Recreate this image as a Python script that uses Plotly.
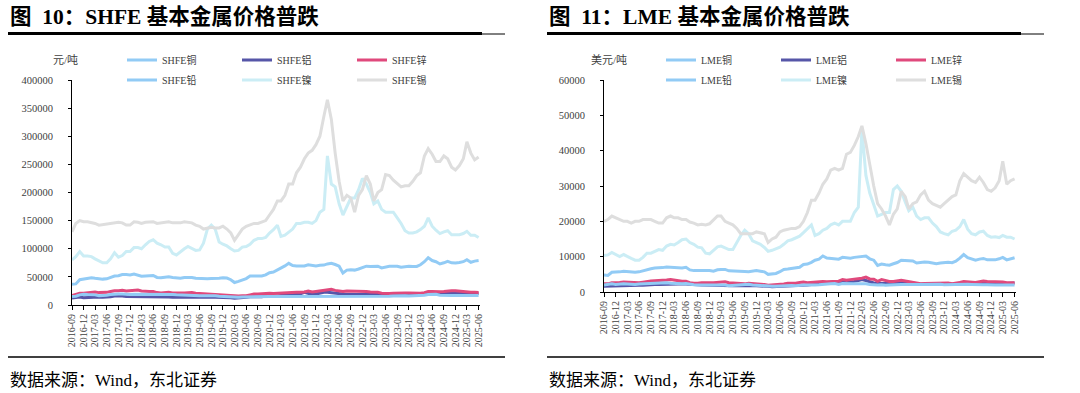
import pandas as pd
import plotly.graph_objects as go

# ---------------- data (monthly readings, 2016-09 .. 2025-06) ----------------
months = pd.date_range("2016-09-01", "2025-06-01", freq="MS")

shfe_names = ["SHFE铜", "SHFE铝", "SHFE锌", "SHFE铅", "SHFE镍", "SHFE锡"]
lme_names = ["LME铜", "LME铝", "LME锌", "LME铅", "LME镍", "LME锡"]

shfe_cu = [37000, 37500, 45000, 46000,
           47000, 48500, 47500, 46500, 46000, 46500, 49000, 51500, 52000, 54000, 54000, 53500,
           55000, 53000, 51000, 51500, 51500, 52500, 49000, 48500, 49500, 50000, 49000, 48500,
           47500, 49000, 49500, 49000, 47500, 46800, 47000, 46500, 47000, 47000, 47500, 48500,
           48000, 45000, 40000, 42000, 44000, 47000, 51500, 51500, 51500, 51500, 53500, 57500,
           58500, 62000, 66000, 69500, 74000, 70000, 69500, 70000, 69500, 71500, 71000, 69500,
           70500, 71000, 73000, 74000, 72000, 69000, 57000, 62000, 62500, 62000, 64000, 66000,
           69000, 68500, 69000, 69000, 66000, 67500, 69000, 69000, 69000, 67000, 68000, 69000,
           68500, 68500, 71500, 77000, 84000, 79000, 77000, 73000, 75000, 77500, 75000, 74500,
           75500, 77000, 80500, 76000, 78000, 79000]
shfe_al = [12500, 13000, 14000, 13000,
           13500, 14000, 13800, 14000, 13800, 13800, 14500, 16000, 16500, 16000, 15000, 15000,
           14500, 14000, 14000, 14500, 14500, 14300, 14000, 14500, 14500, 14000, 13600, 13500,
           13300, 13500, 13600, 13800, 14000, 13800, 13900, 14000, 14000, 13800, 13800, 14000,
           14000, 13000, 12000, 12200, 13000, 13700, 14500, 14500, 14700, 14800, 16000, 15800,
           15200, 16000, 17000, 18000, 19000, 18500, 19500, 20000, 22500, 21000, 18500, 19500,
           21500, 22500, 22500, 21500, 20500, 19500, 18500, 18500, 18500, 18500, 18500, 18500,
           18300, 18200, 18200, 18700, 18300, 18300, 18200, 18800, 19300, 19000, 18800, 19000,
           19000, 18800, 19200, 20300, 20800, 20400, 19600, 19500, 20000, 20800, 20500, 19800,
           20000, 20500, 20600, 19600, 19900, 20400]
shfe_zn = [17000, 18500, 21000, 21000,
           21500, 23000, 23000, 22000, 22000, 22500, 24000, 25500, 25500, 26000, 25000, 25500,
           26500, 26500, 25000, 24000, 24000, 24000, 22000, 21500, 22000, 22500, 21500, 21000,
           21500, 21500, 22000, 22000, 21000, 20500, 19500, 19000, 19000, 19000, 18500, 18000,
           17500, 16500, 15500, 16000, 16500, 16500, 18000, 19500, 19500, 20000, 21000, 21000,
           20500, 21000, 21500, 22000, 22500, 22500, 22500, 22500, 23000, 25000, 23000, 24000,
           25000, 25500, 26500, 28000, 26000, 25000, 24000, 25000, 25000, 25000, 24000, 24000,
           24000, 23000, 23000, 22500, 21000, 20500, 20500, 21000, 21500, 21500, 21500, 21500,
           21500, 20500, 21000, 22000, 24000, 24000, 23500, 23500, 24000, 25000, 25500, 25500,
           24500, 23500, 23500, 22500, 22500, 22000]
shfe_pb = [15000, 15500, 18000, 19000,
           18500, 18500, 18000, 16500, 16500, 17500, 18500, 19500, 19500, 19500, 18500, 18500,
           19000, 19000, 18500, 18500, 19000, 19500, 19500, 18500, 18500, 18500, 18500, 18000,
           17500, 17000, 16800, 16500, 16300, 16300, 16300, 16500, 17500, 16500, 15500, 15000,
           14800, 14800, 13500, 13700, 14200, 14500, 14800, 15000, 15000, 14800, 14800, 15000,
           15000, 15000, 15000, 15000, 15200, 15200, 15300, 15500, 14500, 15300, 15000, 15500,
           15300, 15200, 15200, 15400, 15200, 15000, 15000, 15200, 15300, 15200, 15300, 15500,
           15500, 15300, 15200, 15300, 15400, 15500, 15700, 16000, 16500, 16500, 16300, 16000,
           16200, 16300, 16800, 17200, 18500, 19000, 19000, 17500, 16800, 16500, 16700, 17000,
           17000, 17000, 17300, 16800, 16800, 17000]
shfe_ni = [80000, 86000, 95000, 87000,
           87000, 86000, 82000, 78000, 75000, 75000, 82000, 93000, 85000, 88000, 95000, 95000,
           102000, 102000, 100000, 107000, 113000, 116000, 110000, 107000, 103000, 103000, 92000, 89000,
           95000, 100000, 104000, 101000, 97000, 98000, 110000, 135000, 142000, 135000, 112000, 108000,
           105000, 100000, 96000, 97000, 103000, 104000, 108000, 115000, 118000, 118000, 120000, 128000,
           134000, 142000, 122000, 124000, 130000, 135000, 145000, 145000, 147000, 147000, 145000, 150000,
           165000, 170000, 265000, 215000, 210000, 180000, 160000, 175000, 190000, 190000, 205000, 225000,
           215000, 200000, 180000, 185000, 170000, 165000, 165000, 165000, 155000, 145000, 132000, 128000,
           128000, 130000, 134000, 140000, 155000, 140000, 133000, 127000, 130000, 132000, 125000, 125000,
           125000, 127000, 131000, 124000, 124000, 120000]
shfe_sn = [130000, 145000, 150000, 148000,
           148000, 147000, 145000, 142000, 143000, 143000, 145000, 146000, 147000, 146000, 142000, 142000,
           148000, 147000, 145000, 147000, 148000, 148000, 145000, 146000, 146000, 148000, 146000, 146000,
           146000, 148000, 147000, 146000, 142000, 140000, 135000, 137000, 138000, 137000, 137000, 140000,
           135000, 128000, 115000, 125000, 135000, 140000, 143000, 145000, 145000, 148000, 150000, 160000,
           170000, 185000, 185000, 195000, 215000, 215000, 235000, 245000, 260000, 270000, 275000, 285000,
           300000, 335000, 365000, 330000, 270000, 220000, 185000, 195000, 190000, 165000, 195000, 205000,
           230000, 215000, 185000, 200000, 205000, 232000, 230000, 222000, 215000, 210000, 212000, 212000,
           220000, 230000, 235000, 265000, 278000, 268000, 255000, 255000, 265000, 260000, 245000, 240000,
           248000, 260000, 290000, 270000, 258000, 263000]

lme_cu = [4800, 4700, 5600, 5600,
          5700, 5900, 5800, 5700, 5600, 5700, 6000, 6500, 6600, 6800, 6800, 6900,
          7100, 7000, 6800, 6800, 6800, 7000, 6250, 6050, 6050, 6200, 6200, 6100,
          5900, 6300, 6400, 6400, 6000, 5900, 5950, 5700, 5800, 5750, 5850, 6050,
          5900, 5700, 5000, 5100, 5250, 5750, 6400, 6500, 6700, 6700, 7000, 7800,
          7900, 8400, 9000, 9300, 10200, 9600, 9500, 9400, 9300, 9800, 9700, 9550,
          9800, 9900, 10200, 10200, 9400, 9000, 7500, 7900, 7700, 7600, 8000, 8350,
          9000, 8900, 8800, 8800, 8200, 8400, 8500, 8400, 8300, 8000, 8200, 8400,
          8400, 8300, 8700, 9600, 10600, 9700, 9300, 9000, 9300, 9500, 9100, 9000,
          9100, 9400, 9800, 9100, 9500, 9700]
lme_al = [1600, 1650, 1700, 1700,
          1800, 1850, 1900, 1900, 1900, 1900, 1900, 2050, 2150, 2150, 2100, 2100,
          2200, 2150, 2050, 2250, 2300, 2200, 2050, 2050, 2050, 2000, 1950, 1900,
          1850, 1850, 1880, 1850, 1800, 1780, 1800, 1750, 1750, 1730, 1770, 1780,
          1780, 1700, 1600, 1480, 1500, 1580, 1650, 1750, 1770, 1820, 1950, 2000,
          2000, 2100, 2200, 2350, 2450, 2450, 2550, 2600, 2850, 2950, 2600, 2700,
          3000, 3250, 3500, 3250, 2850, 2550, 2400, 2400, 2250, 2250, 2400, 2400,
          2500, 2400, 2350, 2350, 2250, 2200, 2180, 2170, 2200, 2200, 2200, 2250,
          2200, 2200, 2250, 2550, 2550, 2500, 2350, 2400, 2500, 2600, 2600, 2550,
          2600, 2650, 2600, 2400, 2450, 2550]
lme_zn = [2300, 2300, 2600, 2600,
          2700, 2850, 2750, 2650, 2600, 2600, 2800, 3050, 3100, 3200, 3200, 3250,
          3400, 3500, 3300, 3200, 3050, 3050, 2650, 2500, 2450, 2650, 2550, 2600,
          2600, 2700, 2850, 2900, 2650, 2600, 2450, 2300, 2300, 2450, 2350, 2300,
          2350, 2100, 1900, 1950, 1980, 2050, 2250, 2450, 2450, 2500, 2700, 2800,
          2650, 2750, 2800, 2850, 3000, 2900, 2950, 3000, 3050, 3500, 3300, 3500,
          3600, 3650, 3900, 4200, 3700, 3600, 3000, 3500, 3150, 3000, 2950, 3100,
          3300, 3100, 2950, 2750, 2450, 2350, 2400, 2400, 2550, 2500, 2550, 2600,
          2550, 2350, 2450, 2700, 2950, 2850, 2700, 2700, 2900, 3100, 3000, 3000,
          2800, 2800, 2850, 2600, 2650, 2650]
lme_pb = [2000, 2050, 2300, 2100,
          2250, 2300, 2250, 2150, 2100, 2250, 2300, 2400, 2450, 2500, 2450, 2500,
          2600, 2500, 2400, 2350, 2350, 2400, 2150, 2050, 2000, 2000, 1950, 1950,
          2000, 2050, 2050, 1950, 1800, 1900, 2000, 2050, 2050, 2200, 2000, 1900,
          1900, 1850, 1750, 1650, 1650, 1750, 1800, 1950, 1850, 1800, 1950, 2000,
          2000, 2100, 2000, 2050, 2200, 2200, 2350, 2400, 2150, 2400, 2300, 2300,
          2300, 2300, 2350, 2350, 2150, 2000, 2000, 2050, 1900, 2000, 2100, 2250,
          2150, 2100, 2150, 2150, 2100, 2100, 2150, 2200, 2200, 2100, 2200, 2050,
          2100, 2100, 2050, 2200, 2250, 2200, 2150, 2050, 2050, 2050, 2050, 1950,
          1950, 2000, 2050, 1950, 1950, 1950]
lme_ni = [10300, 10500, 11200, 10700,
          10000, 10600, 10000, 9500, 9000, 9000, 9800, 11000, 11000, 11500, 12000, 11800,
          13000, 13500, 13300, 14000, 14800, 15000, 14000, 13500, 12700, 12500, 11000, 10800,
          11800, 12800, 13000, 12500, 12000, 12000, 14000, 16000, 17500, 16500, 14500, 14000,
          13500, 12600, 11500, 11800, 12300, 12700, 13500, 14500, 14800, 15200, 15800, 16800,
          17800, 19000, 16000, 16500, 17500, 18000, 19000, 19500, 19000, 20000, 20000, 20000,
          22500, 24000, 46000, 33000, 28000, 25000, 21500, 22000, 22500, 22500, 29000, 30000,
          28500, 25500, 23000, 24000, 21500, 20500, 21000, 21000, 19500, 18500, 17000, 16500,
          16200, 17200, 17500, 18500, 20500, 17800, 16500, 16200, 17000, 17200, 16000, 15500,
          15600, 15400, 16000, 15500, 15500, 15000]
lme_sn = [20000, 20500, 21500, 21000,
          20500, 20000, 20000, 19500, 20000, 20000, 20500, 20500, 20500, 20000, 19500, 19500,
          21000, 21500, 21000, 21000, 20500, 20500, 19800, 19500, 19000, 19200, 19000, 19300,
          20500, 21500, 21500, 20000, 19500, 19000, 18000, 16500, 16500, 16500, 16500, 17000,
          16800, 16500, 14000, 15000, 15500, 17000, 17500, 17800, 18000, 18000, 18500, 20000,
          22500, 26000, 26000, 28000, 30500, 32000, 34500, 35000, 34500, 35000, 39000, 39500,
          41500, 44000, 47000, 42000, 35500, 30000, 25000, 23500, 21500, 19000, 22000, 23500,
          28500, 27000, 23500, 25000, 25500, 27500, 28500, 26000, 25000, 24500, 24000, 25000,
          26000, 27000, 27500, 31500, 33500, 32500, 31500, 31000, 32500, 31000, 29000, 28500,
          29500, 31500, 37000, 30500, 31500, 32000]

shfe_series = [shfe_cu, shfe_al, shfe_zn, shfe_pb, shfe_ni, shfe_sn]
lme_series = [lme_cu, lme_al, lme_zn, lme_pb, lme_ni, lme_sn]
line_colors = ["#92CBF5", "#5656A8", "#E0497C", "#92CBF5", "#CBEDF5", "#DEDEDE"]

W, H = 1080, 393
SERIF = "Liberation Serif, 'Noto Sans CJK SC', serif"


def px(x):
    return x / W


def py(y):
    return 1 - y / H


fig = go.Figure()

panels = [
    dict(names=shfe_names, series=shfe_series, xa="x", ya="y",
         legs=("legend", "legend2"), off=0),
    dict(names=lme_names, series=lme_series, xa="x2", ya="y2",
         legs=("legend3", "legend4"), off=539),
]

for p in panels:
    for i, (name, vals) in enumerate(zip(p["names"], p["series"])):
        fig.add_trace(go.Scatter(
            x=months, y=vals, name=name, mode="lines",
            line=dict(color=line_colors[i], width=3),
            xaxis=p["xa"], yaxis=p["ya"],
            legend=p["legs"][0] if i < 3 else p["legs"][1],
        ))

axis_common = dict(showline=True, linecolor="black", linewidth=1, ticks="outside",
                   tickcolor="black", showgrid=False, zeroline=False, automargin=False)
xcommon = dict(axis_common, type="date", ticklen=4, dtick="M3", tick0="2016-09-01",
               tickformat="%Y-%m", tickangle=-90,
               tickfont=dict(family=SERIF, size=10, color="#404040"),
               range=["2016-09-01", "2025-06-12"])
ycommon = dict(axis_common, tickformat="d", ticklen=3, ticklabelstandoff=13,
               tickfont=dict(family=SERIF, size=10.5, color="#404040"))

fig.update_layout(
    width=W, height=H, margin=dict(l=0, r=0, t=0, b=0, autoexpand=False),
    paper_bgcolor="white", plot_bgcolor="white", showlegend=True,
    xaxis=dict(xcommon, domain=[px(72), px(480)], anchor="y"),
    yaxis=dict(ycommon, domain=[py(305), py(80)], anchor="x", range=[0, 400000],
               dtick=50000),
    xaxis2=dict(xcommon, domain=[px(604), px(1016)], anchor="y2"),
    yaxis2=dict(ycommon, domain=[py(292), py(80)], anchor="x2", range=[0, 60000],
                dtick=10000),
)

leg_common = dict(orientation="h", xanchor="left", yanchor="middle",
                  xref="container", yref="container",
                  entrywidth=70, entrywidthmode="pixels", bgcolor="rgba(0,0,0,0)",
                  font=dict(family=SERIF, size=10, color="#404040"),
                  itemwidth=30, tracegroupgap=0)
fig.update_layout(
    legend=dict(leg_common, x=px(122), y=py(60)),
    legend2=dict(leg_common, x=px(122), y=py(80)),
    legend3=dict(leg_common, x=px(122 + 539), y=py(60)),
    legend4=dict(leg_common, x=px(122 + 539), y=py(80)),
)

titles = ["图  10：SHFE 基本金属价格普跌", "图  11：LME 基本金属价格普跌"]
units = ["元/吨", "美元/吨"]
unit_x = [80, 629]
for k, p in enumerate(panels):
    o = p["off"]
    fig.add_annotation(x=px(8 + o), y=py(16), xref="paper", yref="paper",
                       xanchor="left", yanchor="middle", showarrow=False,
                       text="<b>" + titles[k] + "</b>",
                       font=dict(family=SERIF, size=21.5, color="black"))
    fig.add_shape(type="line", xref="paper", yref="paper",
                  x0=px(8 + o), x1=px(482 + o), y0=py(33.5), y1=py(33.5),
                  line=dict(color="black", width=3))
    fig.add_shape(type="line", xref="paper", yref="paper",
                  x0=px(482 + o), x1=px(505 + o), y0=py(34), y1=py(34),
                  line=dict(color="black", width=1))
    fig.add_shape(type="line", xref="paper", yref="paper",
                  x0=px(8 + o), x1=px(505 + o), y0=py(357), y1=py(357),
                  line=dict(color="black", width=1.5))
    fig.add_annotation(x=px(8 + o), y=py(380), xref="paper", yref="paper",
                       xanchor="left", yanchor="middle", showarrow=False,
                       text="数据来源：Wind，东北证券",
                       font=dict(family=SERIF, size=17, color="black"))
    fig.add_annotation(x=px(unit_x[k]), y=py(60), xref="paper", yref="paper",
                       xanchor="right", yanchor="middle", showarrow=False,
                       text=units[k],
                       font=dict(family=SERIF, size=11, color="#404040"))

# remove the default 8px page margin so the 1080x393 figure fills the window
fig.write_html("out.html",
               config={"displayModeBar": False},
               post_script="document.body.style.margin='0px';"
                           "document.body.style.overflow='hidden';")
